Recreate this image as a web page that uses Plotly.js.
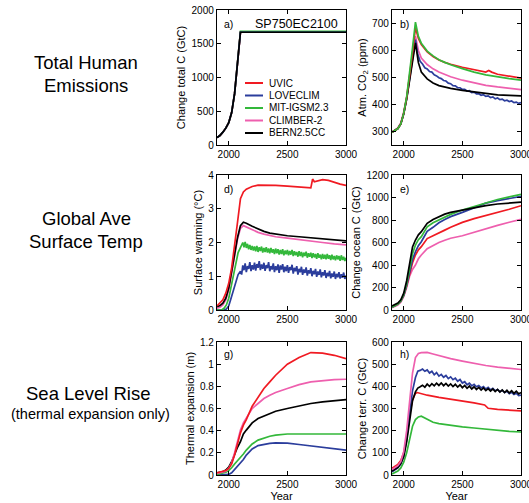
<!DOCTYPE html>
<html>
<head>
<meta charset="utf-8">
<script src="https://cdn.plot.ly/plotly-3.0.1.min.js"></script>
<style>html,body{margin:0;padding:0;background:#fff;}#chart{width:529px;height:503px;}</style>
</head>
<body>
<div id="chart"></div>
<script>
// ---------- DATA ----------
const models = ["UVIC", "LOVECLIM", "MIT-IGSM2.3", "CLIMBER-2", "BERN2.5CC"];

// common year grid
const years = [1900,1925,1950,1975,2000,2025,2050,2075,2100,2125,2150,2200,2250,2300,2350,2400,2500,2600,2700,2800,2900,3000];
// 20-year grid for noisy series
const yearsN20 = [1900,1925,1950,1975,2000,2025,2050,2075,2100,
  2120,2140,2160,2180,2200,2220,2240,2260,2280,2300,2320,2340,2360,2380,2400,2420,2440,2460,2480,2500,
  2520,2540,2560,2580,2600,2620,2640,2660,2680,2700,2720,2740,2760,2780,2800,2820,2840,2860,2880,2900,
  2920,2940,2960,2980,3000];
// 10-year grid for noisy temperature series
const yearsD10 = [1900,1920,1940,1960,1980,2000,2020,2040,2060,2080,2100,
  2110,2120,2130,2140,2150,2160,2170,2180,2190,2200,
  2210,2220,2230,2240,2250,2260,2270,2280,2290,2300,
  2310,2320,2330,2340,2350,2360,2370,2380,2390,2400,
  2410,2420,2430,2440,2450,2460,2470,2480,2490,2500,
  2510,2520,2530,2540,2550,2560,2570,2580,2590,2600,
  2610,2620,2630,2640,2650,2660,2670,2680,2690,2700,
  2710,2720,2730,2740,2750,2760,2770,2780,2790,2800,
  2810,2820,2830,2840,2850,2860,2870,2880,2890,2900,
  2910,2920,2930,2940,2950,2960,2970,2980,2990,3000];

// a) cumulative emissions (GtC)
const yearsA = [1900,1925,1950,1975,2000,2025,2050,2075,2100,2150,2500,3000];
const emisCommon = [110,140,190,250,330,480,760,1180,1670,1670,1670,1670];
const emisMIT    = [110,140,190,250,330,480,760,1180,1685,1685,1685,1685];

// b) atmospheric CO2 (ppm)
const yearsB_UVIC = [1900,1925,1950,1975,2000,2025,2050,2075,2100,2125,2150,2200,2250,2300,2350,2400,2500,2600,2700,2725,2750,2800,2900,3000];
const co2UVIC    = [297,303,311,328,368,425,500,590,685,645,622,595,578,565,556,549,538,528,520,526,520,512,505,498];
const co2MIT     = [297,303,311,328,368,428,510,610,705,652,627,598,580,566,556,547,533,520,510,502,496,490];
const co2CLIMBER = [298,305,313,332,372,428,505,590,653,600,572,548,532,520,511,503,490,480,471,465,459,455];
const co2BERN    = [297,303,311,328,366,420,492,570,628,555,520,495,480,470,464,460,452,446,440,436,434,432];
const co2LOVE    = [297,303,311,328,366,422,495,575,640,
  585,560,550,536,532,522,520,510,506,499,496,489,487,479,477,470,469,462,462,456,
  456,450,451,444,446,439,440,434,436,430,432,426,428,421,424,418,420,414,416,411,
  413,407,409,404,407];

// d) surface warming (deg C)
const yearsD_UVIC = [1900,1925,1950,1975,2000,2025,2050,2075,2100,2125,2150,2200,2250,2300,2400,2500,2600,2650,2700,2705,2715,2730,2750,2800,2850,2900,2950,3000];
const tUVIC = [0.12,0.2,0.3,0.5,0.79,1.25,1.85,2.6,3.3,3.5,3.58,3.66,3.7,3.7,3.69,3.67,3.65,3.63,3.62,3.7,3.88,3.8,3.82,3.86,3.84,3.78,3.73,3.69];
const tBERN    = [0.1,0.13,0.2,0.35,0.65,1.1,1.65,2.15,2.5,2.6,2.57,2.48,2.4,2.33,2.28,2.25,2.2,2.17,2.14,2.11,2.08,2.05];
const tCLIMBER = [0.05,0.08,0.15,0.3,0.6,1.05,1.6,2.1,2.42,2.5,2.46,2.38,2.3,2.25,2.2,2.17,2.13,2.08,2.04,2.0,1.96,1.93];
const tLOVE = [0.0,0.0,-0.02,0.0,0.03,0.12,0.35,0.6,0.85,1.05,1.15,
  1.05,1.32,1.18,1.38,1.12,1.30,1.22,1.42,1.15,1.33,
  1.20,1.40,1.17,1.36,1.25,1.45,1.18,1.35,1.22,1.40,
  1.16,1.33,1.24,1.42,1.15,1.30,1.20,1.38,1.12,1.30,
  1.18,1.35,1.10,1.32,1.20,1.36,1.12,1.28,1.15,1.33,
  1.10,1.27,1.18,1.34,1.08,1.25,1.15,1.30,1.05,1.22,
  1.12,1.28,1.04,1.20,1.10,1.26,1.02,1.18,1.08,1.24,
  1.00,1.16,1.06,1.22,0.98,1.14,1.04,1.20,0.97,1.12,
  1.02,1.18,0.95,1.10,1.00,1.16,0.94,1.08,0.98,1.14,
  0.92,1.07,0.97,1.12,0.93,1.06,0.96,1.11,0.92,1.02];
const tMIT = [0.0,0.0,0.0,0.05,0.15,0.35,0.7,1.05,1.4,1.7,1.85,
  1.92,2.00,1.86,2.02,1.84,1.96,1.80,1.93,1.78,1.90,
  1.76,1.88,1.74,1.90,1.72,1.86,1.75,1.88,1.70,1.84,
  1.72,1.86,1.70,1.82,1.68,1.84,1.70,1.80,1.66,1.82,
  1.68,1.80,1.64,1.78,1.66,1.80,1.62,1.76,1.65,1.78,
  1.62,1.75,1.64,1.78,1.60,1.74,1.62,1.72,1.58,1.74,
  1.60,1.72,1.56,1.70,1.60,1.73,1.55,1.68,1.58,1.70,
  1.54,1.68,1.56,1.66,1.52,1.68,1.55,1.64,1.50,1.66,
  1.52,1.64,1.50,1.66,1.52,1.62,1.48,1.64,1.50,1.60,
  1.47,1.62,1.50,1.60,1.46,1.62,1.48,1.58,1.45,1.55];

// e) change ocean carbon (GtC)
const ocBERN    = [35,45,62,90,150,260,430,560,622,668,696,770,805,830,852,868,889,910,928,942,952,958];
const ocMIT     = [25,35,52,80,135,230,370,500,578,625,652,740,775,800,828,850,889,920,955,982,1005,1028];
const ocLOVE    = [25,35,52,80,130,220,340,450,518,572,607,700,735,775,805,830,868,910,950,972,992,1010];
const ocUVIC    = [25,35,52,80,130,215,330,420,489,535,563,635,660,688,710,735,779,812,838,866,896,927];
const ocCLIMBER = [20,30,45,70,120,200,300,360,400,455,489,545,575,600,620,638,660,692,722,752,780,806];

// g) thermal expansion (m)
const teUVIC    = [0.02,0.025,0.03,0.04,0.06,0.1,0.18,0.28,0.38,0.45,0.5,0.62,0.7,0.78,0.84,0.9,1.0,1.06,1.105,1.1,1.08,1.05];
const teCLIMBER = [0.015,0.02,0.025,0.035,0.06,0.11,0.2,0.31,0.405,0.47,0.51,0.6,0.645,0.69,0.72,0.745,0.78,0.815,0.84,0.853,0.86,0.864];
const teBERN    = [0.02,0.025,0.03,0.045,0.07,0.12,0.19,0.25,0.3,0.37,0.405,0.47,0.51,0.53,0.555,0.575,0.6,0.625,0.645,0.66,0.672,0.68];
const teMIT     = [0.005,0.01,0.015,0.025,0.04,0.065,0.1,0.13,0.15,0.19,0.225,0.28,0.315,0.335,0.35,0.36,0.37,0.37,0.37,0.372,0.37,0.37];
const teLOVE    = [0,0,0,0,0.005,0.02,0.05,0.08,0.105,0.14,0.18,0.235,0.265,0.278,0.286,0.29,0.288,0.275,0.262,0.25,0.238,0.225];

// h) change terrestrial carbon (GtC)
const yearsH_UVIC = [1900,1925,1950,1975,2000,2025,2050,2075,2100,2115,2150,2200,2300,2400,2500,2600,2690,2700,2720,2800,2900,3000];
const tcUVIC    = [30,38,48,65,100,170,270,340,368,372,366,360,350,342,335,325,316,312,301,296,292,289];
const tcCLIMBER = [25,32,42,60,105,200,330,460,530,548,552,553,546,538,532,525,514,503,494,487,481,476];
const tcMIT     = [5,10,18,32,58,100,160,220,250,262,265,250,238,232,228,224,217,212,206,201,197,194];
const tcLOVE    = [15,22,32,50,85,160,270,380,440,
  468,472,478,468,474,460,468,452,462,446,454,441,449,435,443,430,437,423,431,415,
  421,407,414,402,409,398,404,393,399,388,395,384,391,380,386,376,382,372,378,367,
  373,363,369,358,360];
const tcBERN    = [18,25,35,52,85,150,250,335,375,
  392,398,405,396,410,400,412,402,414,404,415,403,413,401,411,399,409,397,407,394,
  404,391,401,388,398,386,395,383,393,381,390,379,388,376,386,374,384,372,382,370,
  380,368,378,366,372];

// ---------- STYLE ----------
const FONT = "Liberation Sans, Arial, Helvetica, sans-serif";
const COL = {UVIC:"#f01a22", LOVE:"#2b3d9c", MIT:"#33b83a", CLIMBER:"#ee5fae", BERN:"#000000"};
const LW = 1.7;
const W = 529, H = 503;
const px = x => x / W;
const py = y => 1 - y / H;

function tr(x, y, color, xa, ya, name) {
  return {type: "scatter", mode: "lines", x: x, y: y, name: name,
    line: {color: color, width: LW}, xaxis: xa, yaxis: ya, showlegend: false, hoverinfo: "skip"};
}

const traces = [
  // a
  tr(yearsA, emisCommon, COL.CLIMBER, "x", "y", models[3]),
  tr(yearsA, emisCommon, COL.UVIC, "x", "y", models[0]),
  tr(yearsA, emisMIT, COL.MIT, "x", "y", models[2]),
  tr(yearsA, emisCommon, COL.LOVE, "x", "y", models[1]),
  tr(yearsA, emisCommon, COL.BERN, "x", "y", models[4]),
  // b
  tr(years, co2CLIMBER, COL.CLIMBER, "x2", "y2", models[3]),
  tr(yearsN20, co2LOVE, COL.LOVE, "x2", "y2", models[1]),
  tr(years, co2BERN, COL.BERN, "x2", "y2", models[4]),
  tr(yearsB_UVIC, co2UVIC, COL.UVIC, "x2", "y2", models[0]),
  tr(years, co2MIT, COL.MIT, "x2", "y2", models[2]),
  // d
  tr(yearsD10, tLOVE, COL.LOVE, "x3", "y3", models[1]),
  tr(yearsD10, tMIT, COL.MIT, "x3", "y3", models[2]),
  tr(years, tCLIMBER, COL.CLIMBER, "x3", "y3", models[3]),
  tr(years, tBERN, COL.BERN, "x3", "y3", models[4]),
  tr(yearsD_UVIC, tUVIC, COL.UVIC, "x3", "y3", models[0]),
  // e
  tr(years, ocCLIMBER, COL.CLIMBER, "x4", "y4", models[3]),
  tr(years, ocUVIC, COL.UVIC, "x4", "y4", models[0]),
  tr(years, ocLOVE, COL.LOVE, "x4", "y4", models[1]),
  tr(years, ocMIT, COL.MIT, "x4", "y4", models[2]),
  tr(years, ocBERN, COL.BERN, "x4", "y4", models[4]),
  // g
  tr(years, teLOVE, COL.LOVE, "x5", "y5", models[1]),
  tr(years, teMIT, COL.MIT, "x5", "y5", models[2]),
  tr(years, teBERN, COL.BERN, "x5", "y5", models[4]),
  tr(years, teCLIMBER, COL.CLIMBER, "x5", "y5", models[3]),
  tr(years, teUVIC, COL.UVIC, "x5", "y5", models[0]),
  // h
  tr(years, tcMIT, COL.MIT, "x6", "y6", models[2]),
  tr(yearsH_UVIC, tcUVIC, COL.UVIC, "x6", "y6", models[0]),
  tr(yearsN20, tcLOVE, COL.LOVE, "x6", "y6", models[1]),
  tr(yearsN20, tcBERN, COL.BERN, "x6", "y6", models[4]),
  tr(years, tcCLIMBER, COL.CLIMBER, "x6", "y6", models[3])
];

const colDom = [[px(217), px(346)], [px(392), px(521)]];
const rowDom = [[py(145), py(10)], [py(310), py(175)], [py(475), py(342)]];

function xax(dom, anchor, withTitle) {
  const a = {domain: dom, anchor: anchor, range: [1900, 3000], tickvals: [2000, 2500, 3000],
    ticks: "inside", ticklen: 4, tickwidth: 1, tickcolor: "#000",
    showline: true, linecolor: "#000", linewidth: 1.2, mirror: "ticks",
    showgrid: false, zeroline: false, tickfont: {size: 10, color: "#000", family: FONT},
    ticklabeloverflow: "allow", fixedrange: true};
  if (withTitle) a.title = {text: "Year", font: {size: 11, color: "#000", family: FONT}, standoff: 2};
  return a;
}
function yax(dom, anchor, title, range, dtick) {
  return {domain: dom, anchor: anchor, range: range, tick0: 0, dtick: dtick,
    ticks: "inside", ticklen: 4, tickwidth: 1, tickcolor: "#000",
    showline: true, linecolor: "#000", linewidth: 1.2, mirror: "ticks",
    showgrid: false, zeroline: false, tickfont: {size: 10, color: "#000", family: FONT},
    title: {text: title, font: {size: 11, color: "#000", family: FONT}, standoff: 3},
    fixedrange: true};
}

const ann = [];
function txt(text, x, y, size, xanchor) {
  ann.push({text: text, x: px(x), y: py(y), xref: "paper", yref: "paper", showarrow: false,
    xanchor: xanchor || "center", yanchor: "middle", font: {size: size, color: "#000", family: FONT}});
}
// row labels
txt("Total Human", 86, 63, 18.5);
txt("Emissions", 86, 86, 18.5);
txt("Global Ave", 86, 218, 18.5);
txt("Surface Temp", 86, 241, 18.5);
txt("Sea Level Rise", 88, 393, 18.5);
txt("(thermal expansion only)", 90, 414, 14.5);
// panel labels
txt("a)", 222, 24, 10.5, "left");
txt("b)", 398, 24, 10.5, "left");
txt("d)", 222, 189, 10.5, "left");
txt("e)", 398, 189, 10.5, "left");
txt("g)", 222, 354, 10.5, "left");
txt("h)", 398, 354, 10.5, "left");
// scenario title
txt("SP750EC2100", 296, 24, 12.5);

// legend (manual, compact)
const shapes = [];
const legCols = [COL.UVIC, COL.LOVE, COL.MIT, COL.CLIMBER, COL.BERN];
const legY = [83, 95.5, 108, 120.5, 133];
models.forEach((m, i) => {
  shapes.push({type: "line", xref: "paper", yref: "paper", x0: px(245), x1: px(263), y0: py(legY[i]), y1: py(legY[i]),
    line: {color: legCols[i], width: 2}});
  txt(m, 267, legY[i], 10, "left");
});

const layout = {
  width: W, height: H, margin: {l: 0, r: 0, t: 0, b: 0},
  paper_bgcolor: "#fff", plot_bgcolor: "#fff",
  font: {family: FONT, size: 10, color: "#000"},
  showlegend: false,
  xaxis:  xax(colDom[0], "y", false),
  yaxis:  yax(rowDom[0], "x", "Change total C (GtC)", [0, 2000], 500),
  xaxis2: xax(colDom[1], "y2", false),
  yaxis2: yax(rowDom[0], "x2", "Atm. CO<sub>2</sub> (ppm)", [250, 750], 100),
  xaxis3: xax(colDom[0], "y3", false),
  yaxis3: yax(rowDom[1], "x3", "Surface warming (°C)", [0, 4], 1),
  xaxis4: xax(colDom[1], "y4", false),
  yaxis4: yax(rowDom[1], "x4", "Change ocean C (GtC)", [0, 1200], 200),
  xaxis5: xax(colDom[0], "y5", true),
  yaxis5: yax(rowDom[2], "x5", "Thermal expansion (m)", [0, 1.2], 0.2),
  xaxis6: xax(colDom[1], "y6", true),
  yaxis6: yax(rowDom[2], "x6", "Change terr. C (GtC)", [0, 600], 100),
  annotations: ann,
  shapes: shapes
};

Plotly.newPlot("chart", traces, layout, {staticPlot: true, displayModeBar: false});
</script>
</body>
</html>
